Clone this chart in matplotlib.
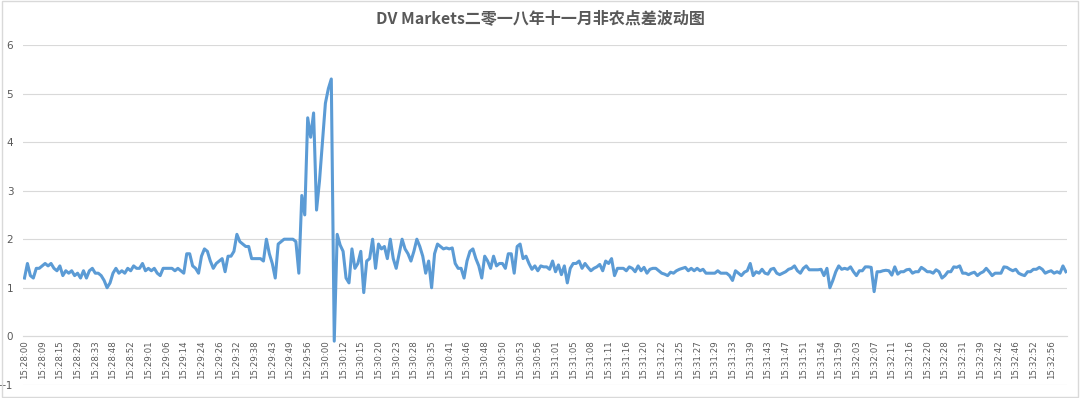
import matplotlib
matplotlib.use("Agg")
import matplotlib.pyplot as plt
from matplotlib.patches import Rectangle

title = "DV Markets二零一八年十一月非农点差波动图"

time_labels = [
    "15:28:00", "15:28:09", "15:28:15", "15:28:29", "15:28:33", "15:28:48",
    "15:28:52", "15:29:01", "15:29:06", "15:29:14", "15:29:24", "15:29:26",
    "15:29:32", "15:29:38", "15:29:43", "15:29:49", "15:29:56", "15:30:00",
    "15:30:12", "15:30:15", "15:30:20", "15:30:23", "15:30:28", "15:30:35",
    "15:30:41", "15:30:46", "15:30:48", "15:30:50", "15:30:53", "15:30:56",
    "15:31:01", "15:31:05", "15:31:08", "15:31:11", "15:31:16", "15:31:20",
    "15:31:22", "15:31:25", "15:31:27", "15:31:29", "15:31:33", "15:31:39",
    "15:31:43", "15:31:47", "15:31:51", "15:31:54", "15:31:59", "15:32:03",
    "15:32:07", "15:32:11", "15:32:16", "15:32:20", "15:32:28", "15:32:31",
    "15:32:39", "15:32:42", "15:32:46", "15:32:52", "15:32:56",
]
label_step = 6  # one label every 6 ticks of data

# spread (points), one row per labelled interval
spread = [
    1.2, 1.5, 1.25, 1.2, 1.4, 1.4,
    1.45, 1.5, 1.45, 1.5, 1.4, 1.35,
    1.45, 1.25, 1.35, 1.3, 1.35, 1.25,
    1.3, 1.2, 1.35, 1.2, 1.35, 1.4,
    1.3, 1.3, 1.25, 1.15, 1.0, 1.1,
    1.3, 1.4, 1.3, 1.35, 1.3, 1.4,
    1.35, 1.45, 1.4, 1.4, 1.5, 1.35,
    1.4, 1.35, 1.4, 1.3, 1.25, 1.4,
    1.4, 1.4, 1.4, 1.35, 1.4, 1.35,
    1.3, 1.7, 1.7, 1.45, 1.4, 1.3,
    1.65, 1.8, 1.75, 1.55, 1.4, 1.5,
    1.55, 1.6, 1.33, 1.65, 1.65, 1.75,
    2.1, 1.95, 1.9, 1.85, 1.85, 1.6,
    1.6, 1.6, 1.6, 1.55, 2.0, 1.7,
    1.5, 1.2, 1.9, 1.95, 2.0, 2.0,
    2.0, 2.0, 1.95, 1.3, 2.9, 2.5,
    4.5, 4.1, 4.6, 2.6, 3.2, 4.0,
    4.8, 5.1, 5.3, -0.1, 2.1, 1.88,
    1.75, 1.2, 1.1, 1.8, 1.4, 1.5,
    1.75, 0.9, 1.55, 1.6, 2.0, 1.4,
    1.9, 1.8, 1.85, 1.6, 2.0, 1.6,
    1.4, 1.7, 2.0, 1.8, 1.7, 1.55,
    1.75, 2.0, 1.85, 1.65, 1.3, 1.55,
    1.0, 1.7, 1.9, 1.85, 1.8, 1.82,
    1.8, 1.82, 1.5, 1.4, 1.4, 1.2,
    1.55, 1.75, 1.8, 1.6, 1.45, 1.2,
    1.65, 1.55, 1.4, 1.65, 1.45, 1.5,
    1.5, 1.4, 1.7, 1.7, 1.3, 1.85,
    1.9, 1.6, 1.65, 1.5, 1.38, 1.45,
    1.35, 1.45, 1.43, 1.43, 1.38, 1.55,
    1.33, 1.47, 1.27, 1.45, 1.1, 1.4,
    1.5, 1.5, 1.55, 1.4, 1.5, 1.42,
    1.35, 1.4, 1.43, 1.48, 1.35, 1.55,
    1.5, 1.6, 1.25, 1.4, 1.4, 1.4,
    1.35, 1.43, 1.4, 1.33, 1.45, 1.35,
    1.42, 1.3, 1.38, 1.4, 1.4, 1.35,
    1.3, 1.28, 1.25, 1.32, 1.3, 1.35,
    1.38, 1.4, 1.42, 1.35, 1.4, 1.35,
    1.4, 1.35, 1.38, 1.3, 1.3, 1.3,
    1.3, 1.35, 1.3, 1.3, 1.3, 1.25,
    1.15, 1.35, 1.3, 1.25, 1.32, 1.35,
    1.5, 1.25, 1.33, 1.3, 1.38, 1.3,
    1.28, 1.38, 1.4, 1.3, 1.27, 1.3,
    1.33, 1.38, 1.4, 1.45, 1.35, 1.3,
    1.4, 1.45, 1.37, 1.37, 1.37, 1.37,
    1.38, 1.25, 1.4, 1.0, 1.15, 1.33,
    1.45, 1.38, 1.4, 1.38, 1.43, 1.33,
    1.25, 1.35, 1.35, 1.43, 1.43, 1.42,
    0.92, 1.33, 1.33, 1.35, 1.36, 1.35,
    1.26, 1.43, 1.28, 1.33, 1.33, 1.37,
    1.38, 1.3, 1.33, 1.33, 1.42, 1.38,
    1.33, 1.33, 1.3, 1.37, 1.33, 1.2,
    1.25, 1.33, 1.33, 1.43, 1.42, 1.45,
    1.3, 1.3, 1.27, 1.3, 1.32, 1.25,
    1.3, 1.33, 1.4, 1.33, 1.25, 1.3,
    1.3, 1.3, 1.43, 1.42, 1.38, 1.35,
    1.38, 1.3, 1.27, 1.25, 1.33, 1.33,
    1.38, 1.38, 1.42, 1.38, 1.3, 1.33,
    1.35, 1.3, 1.33, 1.3, 1.45, 1.33,
]

grey = "#595959"
fig = plt.figure(figsize=(10.8, 3.98), dpi=100)
ax = fig.add_axes([0.0213, 0.033, 0.967, 0.854])

# move the category axis to y=0 first (this resets the ticks)
for side in ["left", "right", "top"]:
    ax.spines[side].set_visible(False)
ax.spines["bottom"].set_position(("data", 0))
ax.spines["bottom"].set_color("#D9D9D9")

ax.plot(range(len(spread)), spread, color="#5B9BD5", linewidth=2.2, zorder=3)

ax.set_xlim(-0.5, len(spread) - 0.5)
ax.set_ylim(-1, 6)
ax.set_yticks(range(-1, 7))
ax.grid(axis="y", color="#D9D9D9", linewidth=0.8)
ax.set_axisbelow(True)

ax.set_xticks(range(0, len(time_labels) * label_step, label_step))
ax.set_xticklabels(time_labels)
ax.tick_params(axis="both", length=0)
ax.tick_params(axis="x", labelrotation=90, labelsize=6.2, labelcolor=grey, pad=3)
ax.tick_params(axis="y", labelsize=7.5, labelcolor=grey, pad=7)

fig.text(0.5, 0.955, title, ha="center", va="center", fontsize=11.5,
         fontweight="bold", color=grey,
         family=["Noto Sans CJK SC", "DejaVu Sans"])

fig.patches.append(Rectangle((0.002, 0.003), 0.996, 0.994, transform=fig.transFigure,
                             fill=False, edgecolor="#D9D9D9", linewidth=1.0))

fig.savefig("out.png", dpi=100)
